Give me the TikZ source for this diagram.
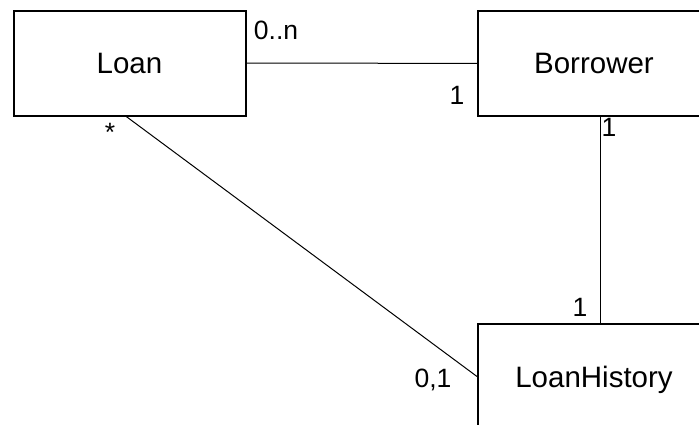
\documentclass[tikz,border=0pt]{standalone}
\usepackage{fontspec}
\setmainfont{Liberation Sans}
\begin{document}
\begin{tikzpicture}[x=1pt,y=1pt,
  classbox/.style={draw=black,line width=2pt,minimum width=232pt,minimum height=105pt,inner sep=0pt,font=\fontsize{29.5}{32}\selectfont,text depth=0pt},
  conn/.style={draw=black,line width=1pt},
  mult/.style={inner sep=0pt,anchor=base,font=\fontsize{26.5}{30}\selectfont}]
\useasboundingbox (0,0) rectangle (699,425);
\node[classbox] (Loan) at (129.5,361.8) {Loan};
\node[classbox] (Borrower) at (594,361.7) {Borrower};
\node[classbox] (LoanHistory) at (594,48.5) {LoanHistory};
\draw[conn] (Loan.east) -- (Borrower.west);
\draw[conn] ([xshift=6pt]Borrower.south) -- ([xshift=6pt]LoanHistory.north);
\draw[conn] ([xshift=-3pt]Loan.south) -- (LoanHistory.west);
\node[mult] (m1) at (276,385) {0..n};
\node[mult] (m2) at (457,320) {1};
\node[mult] (m3) at (110,283) {*};
\node[mult] (m4) at (609,288) {1};
\node[mult] (m5) at (580,108) {1};
\node[mult] (m6) at (433,37) {0,1};
\end{tikzpicture}
\end{document}
